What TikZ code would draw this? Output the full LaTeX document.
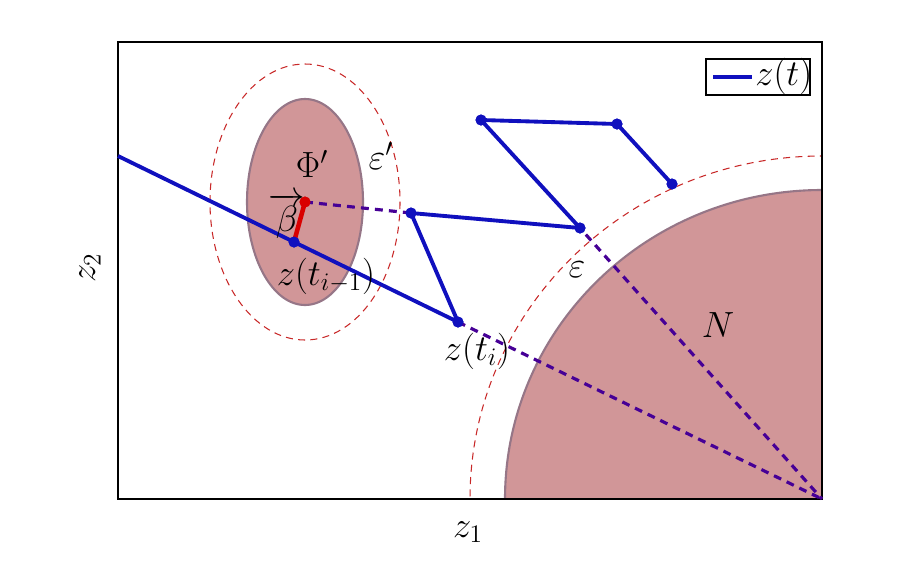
\documentclass[tikz,border=0pt]{standalone}
\usepackage{amsmath}
\begin{document}
\begin{tikzpicture}[x=0.02cm,y=-0.02cm]
\definecolor{trajblue}{RGB}{16,16,190}
\definecolor{dashpurple}{RGB}{70,0,150}
\definecolor{regfill}{RGB}{209,150,152}
\definecolor{regedge}{RGB}{150,118,135}
\definecolor{epsred}{RGB}{200,40,40}
\tikzset{
  dot/.style={circle,fill=trajblue,inner sep=0pt,minimum size=0.22cm},
  reddot/.style={circle,fill=red!85!black,inner sep=0pt,minimum size=0.22cm},
  traj/.style={trajblue,line width=2.2pt},
  dashtraj/.style={dashpurple,line width=1.8pt,dash pattern=on 4.5pt off 3.5pt},
  epscurve/.style={epsred,line width=0.6pt,dash pattern=on 4pt off 3pt},
  region/.style={fill=regfill,draw=regedge,line width=1.2pt},
  lbl/.style={font=\fontsize{20}{24}\selectfont,inner sep=0pt}
}
\useasboundingbox (0,0) rectangle (908,562);
% region N
\begin{scope}
\clip (118,42) rectangle (822,499);
\draw[region] (822,499) ellipse [x radius=317, y radius=309];
\draw[epscurve] (822,499) ellipse [x radius=352, y radius=343];
\end{scope}
% Phi' region
\draw[region] (305,202) ellipse [x radius=58, y radius=103];
\draw[epscurve] (305,202) ellipse [x radius=95, y radius=138];
% frame
\draw[line width=0.7pt] (118,42) rectangle (822,499);
% points
\coordinate (start) at (118,156);
\coordinate (corner) at (822,499);
\node[dot] (zim1) at (294,242) {};
\node[reddot] (phi) at (305,202) {};
\node[dot] (p2) at (411,213) {};
\node[dot] (zi) at (458,322) {};
\node[dot] (p4) at (580,228) {};
\node[dot] (p5) at (481,120) {};
\node[dot] (p6) at (617,124) {};
\node[dot] (p7) at (672,184) {};
% dashed lines
\draw[dashtraj] (phi.center) -- (p2.center);
\draw[dashtraj] (zi.center) -- (corner);
\draw[dashtraj,dash phase=3pt] (p4.center) -- (corner);
% trajectory
\draw[traj] (start) -- (zim1.center) -- (zi.center) -- (p2.center) -- (p4.center) -- (p5.center) -- (p6.center) -- (p7.center);
\draw[red!85!black,line width=2.6pt] (zim1.center) -- (phi.center);
% redraw dots on top
\node[dot] at (zim1) {};
\node[reddot] at (phi) {};
\foreach \p in {p2,zi,p4,p5,p6,p7} \node[dot] at (\p) {};
% labels
\node[lbl] (lphi) at (312,164) {$\Phi'$};
\node[lbl] (lepsp) at (381,156) {$\varepsilon'$};
\node[lbl] (lbeta) at (287,216) {$\overrightarrow{\beta}$};
\node[lbl] (lzim1) at (326,276) {$z(t_{i-1})$};
\node[lbl] (lzi) at (477,351) {$z(t_i)$};
\node[lbl] (leps) at (577,270) {$\varepsilon$};
\node[lbl] (lN) at (718,325) {$N$};
\node[lbl] (lz1) at (468,532) {$z_1$};
\node[lbl,rotate=90] (lz2) at (90,268) {$z_2$};
% legend
\node[draw,line width=0.6pt,minimum width=104*0.02cm,minimum height=36*0.02cm,inner sep=0pt] (legend) at (758,77) {};
\coordinate (la) at (713,77);
\coordinate (lb) at (752,77);
\draw[trajblue,line width=2.2pt] (la) -- (lb);
\node[lbl,anchor=west] (lzt) at (755,76) {$z(t)$};
\end{tikzpicture}
\end{document}
